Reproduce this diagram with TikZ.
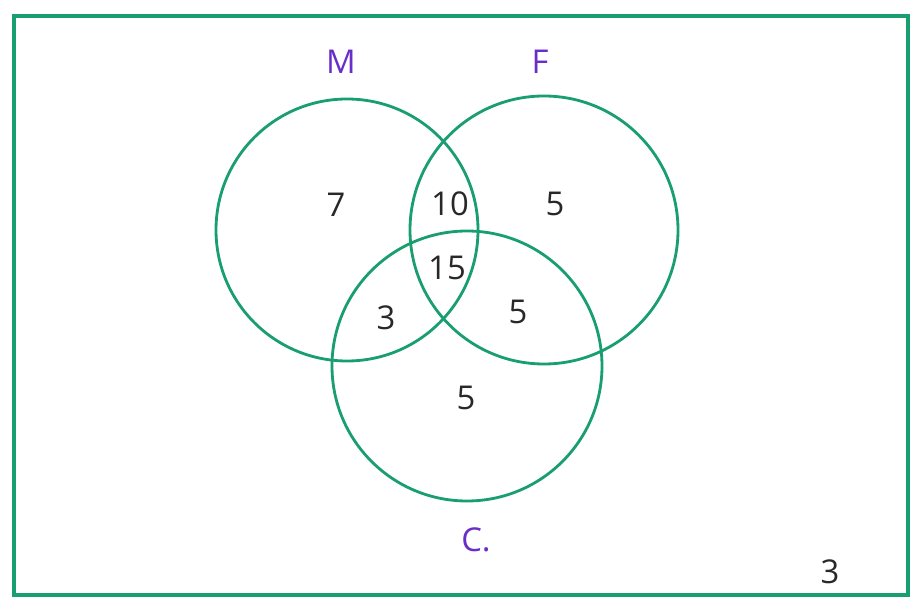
\documentclass[tikz,border=0pt]{standalone}
\usepackage{fontspec}
\setmainfont{Open Sans}
\begin{document}
\begin{tikzpicture}[x=0.03cm,y=-0.03cm,
  every node/.style={outer sep=0pt, inner sep=0pt, font=\fontsize{28}{30}\selectfont},
  setc/.style={draw={rgb,255:red,25;green,158;blue,112}, line width=2.4pt, circle, minimum size=#1*0.06cm},
  setlabel/.style={text={rgb,255:red,105;green,45;blue,200}},
  count/.style={text={rgb,255:red,40;green,40;blue,40}}]
\useasboundingbox (0,0) rectangle (911,598);
\draw[draw={rgb,255:red,25;green,158;blue,112},line width=2.6pt] (14,16) rectangle (908,595);
\node[setc=131] (M) at (347,230) {};
\node[setc=134] (F) at (544,230) {};
\node[setc=135] (C) at (467,366) {};
\node[setlabel] (lM) at (341,62) {M};
\node[setlabel] (lF) at (540,62) {F};
\node[setlabel] (lC) at (476,540) {C.};
\node[count] (nM) at (336,205) {7};
\node[count] (nMF) at (450,204) {10};
\node[count] (nF) at (555,204) {5};
\node[count] (nMFC) at (447,268) {15};
\node[count] (nMC) at (386,318) {3};
\node[count] (nFC) at (518,312) {5};
\node[count] (nC) at (466,398) {5};
\node[count] (page) at (830,572) {3};
\end{tikzpicture}
\end{document}
